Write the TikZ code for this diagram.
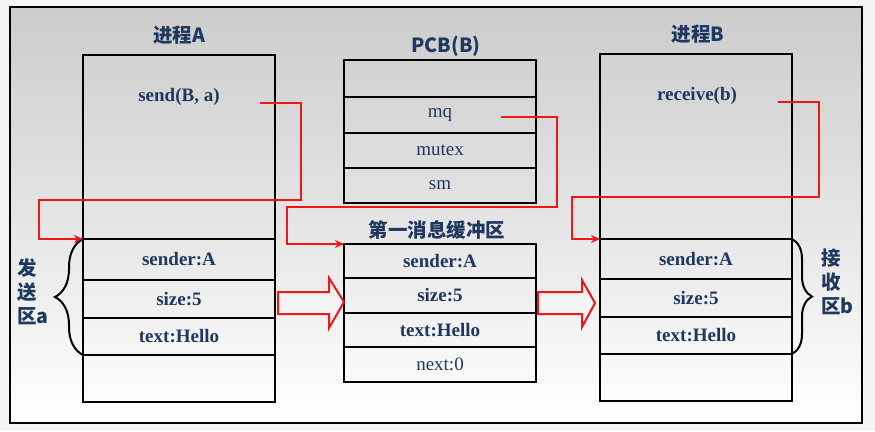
\documentclass[tikz,border=0pt]{standalone}
\usepackage{fontspec}
\setmainfont{Liberation Serif}
\newfontfamily\cjk{Noto Sans CJK SC}
\usetikzlibrary{arrows.meta,decorations.pathreplacing}
\definecolor{navy}{RGB}{31,56,96}
\definecolor{bgtop}{RGB}{204,204,204}
\definecolor{bgmid}{RGB}{228,228,228}
\definecolor{lred}{RGB}{238,24,24}
\begin{document}
\begin{tikzpicture}[x=1pt,y=-1pt,
  cell/.style={draw=black,line width=2.6pt,inner sep=0pt,outer sep=0pt,minimum width=192pt,anchor=north west,
    font=\fontsize{19}{22}\selectfont\bfseries,text=navy},
  pcell/.style={cell,font=\fontsize{19}{22}\selectfont},
  ttl/.style={font=\cjk\bfseries\fontsize{19.5}{22}\selectfont,text=navy,inner sep=0pt},
  txt/.style={font=\fontsize{19}{22}\selectfont\bfseries,text=navy,inner sep=0pt},
  side/.style={font=\cjk\bfseries\fontsize{19.5}{24}\selectfont,text=navy,inner sep=0pt,align=left,anchor=west},
  redline/.style={draw=lred,line width=2pt},
  redarrow/.style={redline,-{Stealth[length=9pt,width=8pt]}},
  brc/.style={draw=black,line width=2pt,decorate},
  blockarrow/.style={draw=lred,line width=2pt,fill=white,fill opacity=0.35,line join=miter}
]
% background
\useasboundingbox (0,0) rectangle (875,431);
\fill[white!96!black] (0,0) rectangle (875,431);
\shade[top color=bgtop,bottom color=white,middle color=bgmid] (10,7) rectangle (862,423);
\draw[line width=2pt,black] (10,7) rectangle (862,423);

% Process A
\node[ttl] (tA) at (179,35) {进程A};
\node[cell,minimum height=184pt] (Atop) at (83,55) {};
\node[cell,minimum height=41pt] (Asnd) at (83,239) {sender:A};
\node[cell,minimum height=38pt] (Asz) at (83,280) {size:5};
\node[cell,minimum height=37pt] (Atxt) at (83,318) {text:Hello};
\node[cell,minimum height=47pt] (Aend) at (83,355) {};
\node[txt] (sendA) at (179,97) {send(B, a)};

% PCB(B)
\node[ttl] (tP) at (446,46) {PCB(B)};
\node[pcell,minimum height=37pt] (P1) at (344,60) {};
\node[pcell,minimum height=36pt] (P2) at (344,97) {mq};
\node[pcell,minimum height=35pt] (P3) at (344,133) {mutex};
\node[pcell,minimum height=35pt] (P4) at (344,168) {sm};

% buffer
\node[ttl] (tM) at (437,230) {第一消息缓冲区};
\node[cell,minimum height=34pt] (M1) at (344,244) {sender:A};
\node[cell,minimum height=35pt] (M2) at (344,278) {size:5};
\node[cell,minimum height=34pt] (M3) at (344,313) {text:Hello};
\node[pcell,minimum height=35pt] (M4) at (344,347) {next:0};

% Process B
\node[ttl] (tB) at (698,34) {进程B};
\node[cell,minimum height=185pt] (Btop) at (600,54) {};
\node[cell,minimum height=40pt] (Bsnd) at (600,239) {sender:A};
\node[cell,minimum height=38pt] (Bsz) at (600,279) {size:5};
\node[cell,minimum height=37pt] (Btxt) at (600,317) {text:Hello};
\node[cell,minimum height=47pt] (Bend) at (600,354) {};
\node[txt] (recvB) at (697,96) {receive(b)};

% side labels and braces
\node[side] (sa) at (17,292) {发\\送\\区a};
\node[side] (sb) at (821,282) {接\\收\\区b};
\draw[brc,decoration={brace,amplitude=28pt}] (Atxt.south west) -- (Asnd.north west);
\draw[brc,decoration={brace,amplitude=20pt}] (Bsnd.north east) -- (Btxt.south east);

% red connectors
\coordinate (s1) at (260,103);
\coordinate (s2) at (501,117);
\coordinate (s3) at (778,102);
\draw[redarrow] (s1) -- (301,103) |- (39,200) |- (Asnd.north west);
\draw[redarrow] (s2) -- (557,117) |- (287,207) |- (M1.north west);
\draw[redarrow] (s3) -- (819,102) |- (572,197) |- (Bsnd.north west);

% block arrows
\draw[blockarrow] (278,292) -- (329,292) -- (329,278) -- (M2.west |- 0,302) -- (329,328) -- (329,314) -- (278,314) -- cycle;
\draw[blockarrow] (538,292) -- (582,292) -- (582,280) -- (595,303) -- (582,327) -- (582,314) -- (538,314) -- cycle;
\end{tikzpicture}
\end{document}
